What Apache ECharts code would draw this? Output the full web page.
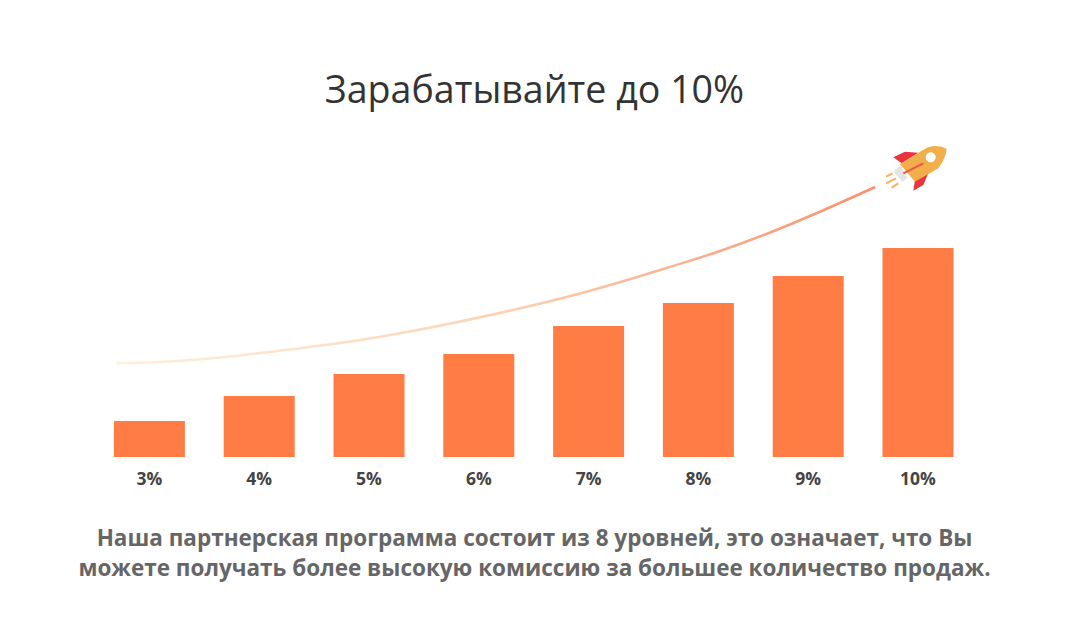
<!DOCTYPE html>
<html>
<head>
<meta charset="utf-8">
<style>
  html, body { margin: 0; padding: 0; background: #fff; }
  #chart { width: 1069px; height: 621px; }
</style>
</head>
<body>
<div id="chart"></div>
<script src="https://cdn.jsdelivr.net/npm/echarts@6/dist/echarts.min.js"></script>
<script>
const headline = 'Зарабатывайте до 10%'
const descriptionLines = [
  'Наша партнерская программа состоит из 8 уровней, это означает, что Вы',
  'можете получать более высокую комиссию за большее количество продаж.',
]

const levels = ['3%', '4%', '5%', '6%', '7%', '8%', '9%', '10%']
const barValues = [36, 61, 83, 103, 131, 154, 181, 209]

// trend curve, x counted in category slots (0..8)
const curveX = [0.2, 0.6, 1.05, 1.51, 1.96, 2.42, 2.87, 3.33, 3.81, 4.3, 4.76, 5.21, 5.67, 6.13, 6.58, 7.11]
const curveY = [94, 95, 98.5, 104, 110, 117, 125.5, 135.5, 147, 160, 174, 189, 205, 223.5, 244, 270]

const bodyText = {
  color: '#666',
  fontSize: 22.5,
  fontWeight: 'bold',
  fontFamily: 'Open Sans',
}

const chart = echarts.init(document.getElementById('chart'), null, { renderer: 'svg' })

chart.setOption({
  animation: false,
  backgroundColor: '#fff',
  title: [
    {
      text: headline,
      left: 'center',
      top: 64,
      textStyle: { color: '#333', fontSize: 37.6, fontWeight: 'normal', fontFamily: 'Open Sans' },
    },
    { text: descriptionLines[0], left: 'center', top: 521, textStyle: bodyText },
    { text: descriptionLines[1], left: 'center', top: 551, textStyle: bodyText },
  ],
  grid: { left: 94.5, top: 157, width: 878.4, height: 300 },
  xAxis: [
    {
      type: 'category',
      data: levels,
      axisLine: { show: false },
      axisTick: { show: false },
      axisLabel: { color: '#444', fontSize: 17.5, fontWeight: 'bold', fontFamily: 'Open Sans', margin: 12 },
    },
    { type: 'value', min: 0, max: 8, show: false },
  ],
  yAxis: { type: 'value', min: 0, max: 300, show: false },
  series: [
    {
      type: 'bar',
      data: barValues,
      barWidth: 71,
      itemStyle: { color: '#ff7d45' },
    },
    {
      type: 'line',
      xAxisIndex: 1,
      data: curveX.map((x, i) => [x, curveY[i]]),
      smooth: 0.4,
      showSymbol: false,
      lineStyle: {
        width: 2.5,
        color: new echarts.graphic.LinearGradient(0, 0, 1, 0, [
          { offset: 0, color: '#fff0dc' },
          { offset: 0.5, color: '#fcd3b4' },
          { offset: 1, color: '#f8906a' },
        ]),
      },
    },
  ],
  // rocket at the end of the curve, decoration only
  graphic: [
    { type: 'polygon', shape: { points: [[893.3, 157.3], [905, 151.7], [918.3, 152.7], [901.7, 163.3]] }, style: { fill: '#e8343c' } },
    { type: 'polygon', shape: { points: [[913.3, 190.7], [915, 180], [928.3, 173.3], [923.3, 185]] }, style: { fill: '#e8343c' } },
    { type: 'polygon', shape: { points: [[893.3, 171.7], [900.7, 165], [907.3, 178.3], [902.7, 181.7]] }, style: { fill: '#e4e4e4' } },
    {
      type: 'polygon',
      shape: { points: [[900, 164.3], [921.7, 150.7], [928, 147.2], [934, 146], [941, 146.5], [946.7, 149], [945.5, 155], [942.5, 162], [938.3, 168.3], [915, 181.7]] },
      style: { fill: '#f2ae4a' },
    },
    { type: 'circle', shape: { cx: 930.7, cy: 157.3, r: 5 }, style: { fill: '#fff' } },
    { type: 'line', shape: { x1: 903.3, y1: 173.3, x2: 923.3, y2: 163.3 }, style: { stroke: '#e8574b', lineWidth: 2 } },
    { type: 'line', shape: { x1: 886, y1: 176.7, x2: 892.7, y2: 173.3 }, style: { stroke: '#f4b25a', lineWidth: 2 } },
    { type: 'line', shape: { x1: 886, y1: 183.3, x2: 896, y2: 178.3 }, style: { stroke: '#f4b25a', lineWidth: 2 } },
    { type: 'line', shape: { x1: 891.7, y1: 187.7, x2: 898.3, y2: 183.3 }, style: { stroke: '#f4b25a', lineWidth: 2 } },
  ],
})
</script>
</body>
</html>
